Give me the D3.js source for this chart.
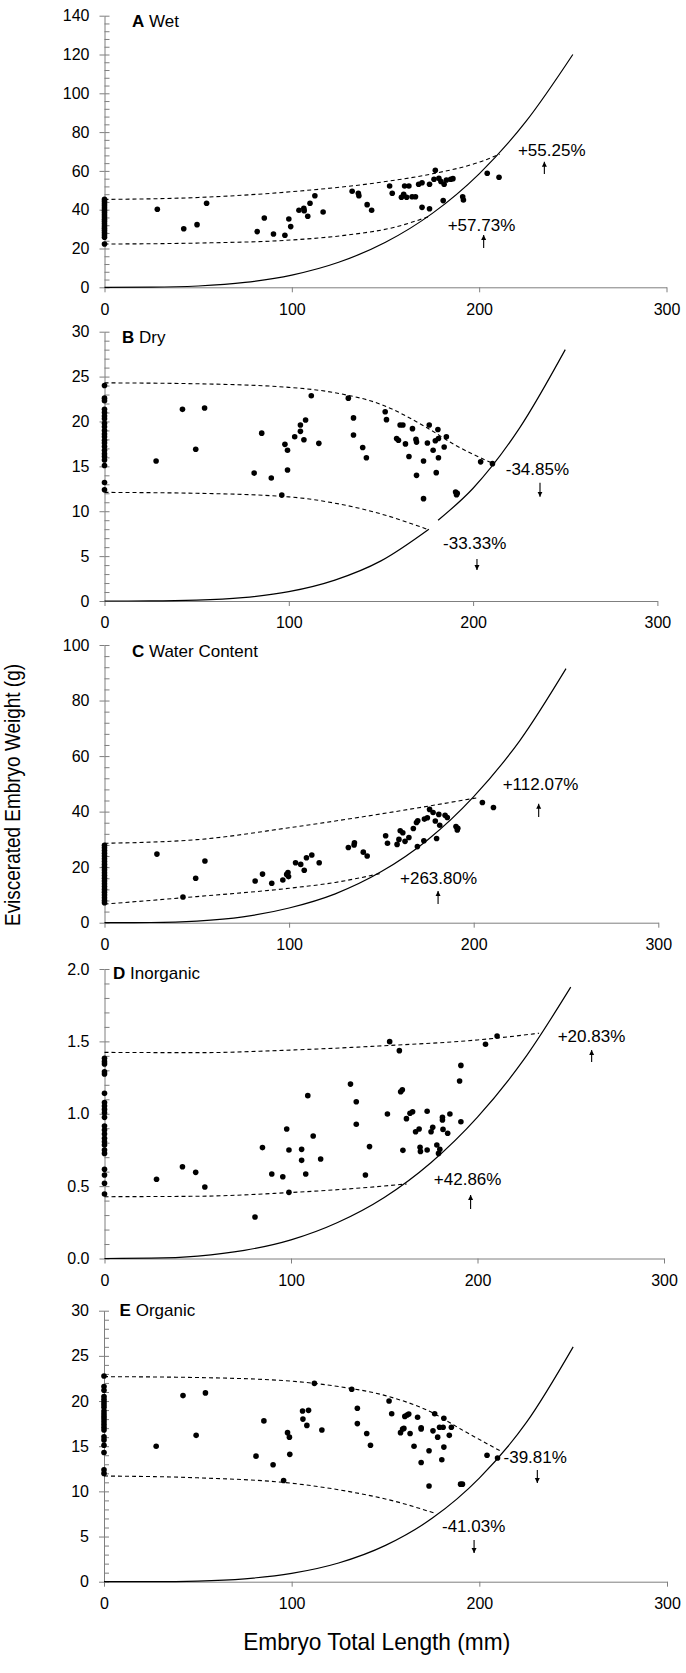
<!DOCTYPE html>
<html><head><meta charset="utf-8">
<script src="https://cdn.jsdelivr.net/npm/d3@7"></script>
<style>
body{margin:0;background:#fff}
svg{display:block}
text{font-family:"Liberation Sans",Arial,sans-serif;fill:#000}
</style>
</head><body>
<svg id="chart" width="686" height="1673"></svg>
<script>
// ---------------- DATA ----------------
const xTickValues = [0, 100, 200, 300];
const panelLetters = ["A", "B", "C", "D", "E"];
const panelNames = ["Wet", "Dry", "Water Content", "Inorganic", "Organic"];
const yMaxes = [140, 30, 100, 2, 30];
const yMajorSteps = [20, 5, 20, 0.5, 5];
const xTitle = "Embryo Total Length (mm)";
const yTitle = "Eviscerated Embryo Weight (g)";

// Panel A - Wet
const wetDots = [
[0,22.3],[0,25.8],[0,27],[0,28.2],[0,29.4],[0,30.5],[0,31.6],[0,32.8],[0,34],[0,35.1],[0,36.3],[0,37.4],[0,38.6],[0,39.7],[0,40.9],[0,42],[0,43.1],[0,44.2],[0,45.3],
[28.2,40.2],[42.3,30.2],[49.4,32.3],[54.5,43.3],[81.5,28.7],[85.3,35.7],[90.2,27.5],[96.3,26.8],[98.4,35.2],[99.4,31.3],[103.8,39.7],[106.4,40.7],[106.6,39.5],[108.5,36.6],[109.7,43.3],[112.3,47.2],[116.7,38.8],[132.2,49.5],[135.5,48.5],[135.8,47.2],[140.2,42.6],[142.6,39.7],[152.2,52.2],[153.6,48.5],[158.5,46.4],[159.7,48],[160.2,52.2],[162.5,52.2],[161.3,46.4],[164.2,46.7],[166,46.7],[167.7,53.1],[169.5,53.9],[169.5,41.2],[173.5,53.1],[173.5,40.5],[175.9,55.7],[176.6,60.3],[178.5,56.2],[179.6,54.5],[181.3,53.1],[180.8,44.7],[182.5,55.3],[184.8,55.7],[186,56],[191.2,46.7],[191.6,45],[204.3,58.8],[210.6,56.7]
];
const wetCurve = [[0,0],[25,0.07],[50,0.68],[75,2.5],[100,6.3],[125,12.9],[150,23.2],[175,38.1],[200,58.5],[225,85.5],[250,120]];
const wetUpper = [[0,45.3],[50,46.3],[100,49.3],[150,54.5],[175,58.5],[200,64.5],[211,68.6]];
const wetLower = [[0,22.3],[50,22.8],[100,24.4],[130,27],[155,31],[173,36.4]];
const wetNotes = [["+55.25%",220.7,67.7,234.8,58.4,64.7],["+57.73%",183.2,29.0,202.4,20.3,27.0]];

// Panel B - Dry
const dryDots = [
[0,24.0],[0,22.6],[0,22.3],[0,21.35],[0,21.0],[0,20.6],[0,20.3],[0,19.8],[0,19.4],[0,19.0],[0,18.6],[0,18.3],[0,17.9],[0,17.6],[0,17.2],[0,16.8],[0,16.4],[0,16.1],[0,15.7],[0,15.1],[0,13.2],[0,12.4],
[28.0,15.6],[42.3,21.35],[49.5,16.9],[54.3,21.5],[81.2,14.25],[85.3,18.7],[90.5,13.7],[96.2,11.8],[97.9,17.45],[99.3,16.8],[99.3,14.6],[103.2,18.3],[106.3,19.6],[106.3,18.9],[108.2,17.97],[109.1,20.16],[112.2,22.87],[116.3,17.56],[132.3,22.6],[135.1,20.4],[135.1,18.5],[140.1,17.1],[142.1,15.96],[152.3,21.09],[153.0,20.2],[158.5,18.1],[159.5,17.9],[160.4,19.6],[161.9,19.6],[163.3,17.5],[165.2,16.1],[167.1,19.2],[169.0,18.0],[169.3,17.7],[169.3,14.0],[173.1,15.6],[173.1,11.4],[175.2,17.6],[176.2,19.6],[178.3,16.8],[179.5,17.85],[180.0,14.3],[180.9,19.1],[181.2,18.1],[181.2,15.96],[184.3,17.15],[185.5,18.3],[190.5,12.14],[191,11.84],[191.4,12.0],[204.1,15.5],[210.5,15.3]
];
const dryCurveLow = [[0,0],[25,0.007],[50,0.087],[75,0.37],[100,1.04],[125,2.33],[150,4.47],[176,8.0]];
const dryCurveHigh = [[181,9.0],[200,12.56],[225,19.2],[250,28]];
const dryUpper = [[0,24.3],[50,24.2],[100,23.8],[125,23.2],[150,21.9],[175,19.3],[190,17.4],[210,15.4]];
const dryLower = [[0,12.1],[50,12.0],[100,11.6],[125,10.9],[150,9.7],[175,8.0]];
const dryNotes = [["-34.85%",217.7,14.04,236.3,13.18,11.62],["-33.33%",183.7,5.79,202.1,4.68,3.45]];

// Panel C - Water Content
const waterDots = [
[0,27.9],[0,27],[0,26],[0,25],[0,24],[0,23],[0,22],[0,21],[0,20],[0,19],[0,18],[0,17],[0,16],[0,15],[0,14],[0,13],[0,12],[0,11],[0,10],[0,9],[0,8],[0,7.2],
[28.4,24.7],[42.5,9.25],[49.4,16.0],[54.4,22.2],[81.6,15.0],[85.6,17.5],[90.6,14.2],[96.6,15.4],[98.7,17.4],[99.4,18.1],[99.7,16.6],[103.5,21.6],[106.3,21.0],[108.2,18.9],[109.4,23.4],[112.3,24.4],[116.3,21.6],[132.1,27.1],[135.2,28.0],[135.4,28.8],[140.2,25.4],[142.3,24.0],[152.3,31.3],[153.3,28.6],[158.5,28.2],[159.5,30.0],[160.2,33.1],[161.6,32.4],[162.8,29.3],[164.9,30.7],[167.3,33.9],[169.0,36.1],[169.5,27.4],[169.7,36.7],[173.0,29.5],[173.3,37.3],[174.9,37.8],[176.1,40.8],[178.0,39.7],[179.2,36.6],[179.9,30.3],[181.1,39.0],[181.6,35.1],[184.5,38.7],[185.7,37.9],[190.4,34.6],[191.1,33.4],[191.4,34.0],[204.7,43.3],[210.7,41.5]
];
const waterCurve = [[0,0],[25,0.07],[50,0.59],[75,2.1],[100,5.3],[125,10.4],[150,18.4],[175,29.8],[200,45.4],[225,65.6],[250,91.5]];
const waterUpper = [[0,28.6],[50,29.9],[100,34.2],[150,39.2],[202,45]];
const waterLower = [[0,6.7],[50,9.4],[100,12.4],[125,14.5],[150,17.8]];
const waterNotes = [["+112.07%",215.7,47.8,235.2,38.1,42.8],["+263.80%",160.1,13.9,180.7,6.7,11.4]];

// Panel D - Inorganic
const inorgDots = [
[0,1.383],[0,1.36],[0,1.344],[0,1.29],[0,1.275],[0,1.141],[0,1.077],[0,1.053],[0,1.03],[0,1.007],[0,0.975],[0,0.915],[0,0.888],[0,0.86],[0,0.83],[0,0.807],[0,0.784],[0,0.75],[0,0.726],[0,0.616],[0,0.577],[0,0.52],[0,0.446],
[27.9,0.547],[41.8,0.634],[48.9,0.595],[53.8,0.494],[80.7,0.287],[84.7,0.766],[89.7,0.584],[95.6,0.565],[97.7,0.895],[98.9,0.75],[98.9,0.457],[105.7,0.754],[105.7,0.678],[107.9,0.584],[109.0,1.125],[111.9,0.846],[115.9,0.687],[131.9,1.205],[135.0,1.083],[135.0,0.927],[142.1,0.773],[139.9,0.577],[151.7,0.998],[152.9,1.498],[158.1,1.436],[158.8,1.152],[159.7,1.166],[160.0,0.747],[161.9,0.966],[163.8,1.003],[165.2,1.014],[166.8,0.876],[168.7,0.895],[169.2,0.768],[169.4,0.74],[173.0,1.017],[173.0,0.75],[175.1,0.876],[176.0,0.906],[178.2,0.784],[179.1,0.726],[179.8,0.754],[181.2,0.975],[181.2,0.957],[181.5,0.892],[184.0,0.865],[185.2,0.998],[190.4,1.226],[191.1,1.334],[191.1,0.945],[204.3,1.48],[210.5,1.537]
];
const inorgCurve = [[0,0],[25,0.0023],[50,0.017],[75,0.056],[100,0.129],[125,0.249],[150,0.422],[175,0.662],[200,0.977],[225,1.377],[250,1.875]];
const inorgUpper = [[0,1.424],[50,1.422],[100,1.44],[150,1.47],[200,1.51],[233,1.556]];
const inorgLower = [[0,0.427],[50,0.43],[100,0.456],[130,0.48],[162,0.515]];
const inorgNotes = [["+20.83%",243,1.496,261.2,1.357,1.44],["+42.86%",176.6,0.508,196.3,0.342,0.439]];

// Panel E - Organic
const orgDots = [
[0,22.77],[0,21.6],[0,21.2],[0,20.5],[0,20.2],[0,19.9],[0,19.6],[0,19.3],[0,18.9],[0,18.6],[0,18.3],[0,18.0],[0,17.7],[0,17.4],[0,17.1],[0,16.8],[0,16.05],[0,15.7],[0,15.1],[0,14.3],[0,12.4],[0,11.99],
[27.8,15.0],[42.1,20.6],[49.1,16.2],[54.05,20.9],[81.0,13.9],[85.2,17.8],[90.1,12.95],[95.7,11.2],[97.8,16.5],[98.8,16.0],[99.0,14.1],[105.8,18.9],[106.0,18.0],[108.1,17.3],[109.0,18.97],[112.1,21.96],[116.1,16.8],[132.0,21.3],[135.0,19.2],[135.0,17.5],[140.0,16.4],[142.0,15.1],[151.9,20.0],[153.3,18.6],[158.0,16.5],[159.1,16.9],[159.8,16.97],[160.3,18.3],[161.5,18.45],[162.4,18.56],[163.1,16.4],[165.2,15.0],[167.1,18.2],[169.0,17.05],[169.0,16.9],[169.0,13.2],[173.2,14.5],[173.2,10.6],[175.3,16.7],[176.2,18.6],[177.8,16.0],[178.8,17.1],[180.7,17.1],[180.0,13.5],[181.1,18.1],[181.1,14.9],[184.0,16.2],[185.1,17.1],[190.0,10.8],[191.0,10.8],[204.1,14.0],[209.7,13.7]
];
const orgCurve = [[0,0],[25,0.006],[50,0.073],[75,0.32],[100,0.92],[125,2.07],[150,4.02],[175,7.04],[200,11.47],[225,17.6],[250,26]];
const orgUpper = [[0,22.7],[50,22.6],[100,22.2],[125,21.6],[150,20.6],[175,18.7],[190,16.9],[211,14.5]];
const orgLower = [[0,11.7],[50,11.5],[100,10.9],[130,10.0],[155,8.9],[176,7.6]];
const orgNotes = [["-39.81%",212.9,13.14,230.9,12.37,10.93],["-41.03%",180.1,5.5,197.2,4.61,3.17]];

// ---------------- LAYOUT ----------------
const layout = [
  {x0:104.5, x1:666.5, yb:287.3, yt:15.7,  lx:27.5, ly:11.3},
  {x0:104.5, x1:657.4, yb:601,   yt:331.7, lx:17.5, ly:11.3},
  {x0:104.5, x1:658.3, yb:922.7, yt:645,   lx:27.5, ly:12},
  {x0:104.5, x1:664,   yb:1258.5,yt:969,   lx:8.5,  ly:10},
  {x0:104,   x1:667,   yb:1581.7,yt:1310.7,lx:15.6, ly:5.3}
];
const panels = [
  {dots:wetDots,   curves:[wetCurve],                 upper:wetUpper,   lower:wetLower,   notes:wetNotes},
  {dots:dryDots,   curves:[dryCurveLow,dryCurveHigh], upper:dryUpper,   lower:dryLower,   notes:dryNotes},
  {dots:waterDots, curves:[waterCurve],               upper:waterUpper, lower:waterLower, notes:waterNotes},
  {dots:inorgDots, curves:[inorgCurve],               upper:inorgUpper, lower:inorgLower, notes:inorgNotes},
  {dots:orgDots,   curves:[orgCurve],                 upper:orgUpper,   lower:orgLower,   notes:orgNotes}
];

const AXIS = "#7f7f7f";
const svg = d3.select("#chart");
svg.append("rect").attr("width",686).attr("height",1673).attr("fill","#fff");

const defs = svg.append("defs");
defs.append("marker").attr("id","ah").attr("viewBox","0 0 10 10")
  .attr("refX",10).attr("refY",5).attr("markerWidth",5).attr("markerHeight",6)
  .attr("markerUnits","userSpaceOnUse").attr("orient","auto")
  .append("path").attr("d","M0,0 L10,5 L0,10 z").attr("fill","#000");

panels.forEach((p, i) => {
  const L = layout[i];
  const x = d3.scaleLinear().domain([0,300]).range([L.x0, L.x1]);
  const y = d3.scaleLinear().domain([0,yMaxes[i]]).range([L.yb, L.yt]);
  const step = yMajorSteps[i];
  const majors = d3.range(0, yMaxes[i] + step/2, step);
  const minors = d3.range(0, Math.round(yMaxes[i]/(step/5)) + 1).map(k => k*step/5);
  const fmt = step < 1 ? d3.format(".1f") : d3.format("d");
  const g = svg.append("g");

  const ya = g.append("g").attr("transform",`translate(${L.x0},0)`)
    .call(d3.axisLeft(y).tickValues(majors).tickSize(5).tickSizeOuter(0).tickPadding(10).tickFormat(fmt));
  const yr = g.append("g").attr("transform",`translate(${L.x0},0)`)
    .call(d3.axisRight(y).tickValues(minors).tickSize(5).tickSizeOuter(0).tickFormat(""));
  yr.select(".domain").remove();
  const xa = g.append("g").attr("transform",`translate(0,${L.yb})`)
    .call(d3.axisBottom(x).tickValues(xTickValues).tickSize(5).tickSizeOuter(0).tickPadding(11).tickFormat(d3.format("d")));

  [ya, yr, xa].forEach(a => {
    a.selectAll("line").attr("stroke", AXIS);
    a.selectAll(".domain").attr("stroke", AXIS);
    a.selectAll("text").attr("font-size", 16).attr("fill","#000")
      .attr("font-family",'"Liberation Sans",Arial,sans-serif');
  });

  const t = g.append("text").attr("x", L.x0 + L.lx).attr("y", L.yt + L.ly).attr("font-size", 17);
  t.append("tspan").attr("font-weight","bold").text(panelLetters[i]);
  t.append("tspan").text(" " + panelNames[i]);

  const line = d3.line().x(d => x(d[0])).y(d => y(d[1])).curve(d3.curveMonotoneX);

  p.curves.forEach(c => g.append("path").attr("d", line(c)).attr("fill","none")
    .attr("stroke","#000").attr("stroke-width",1.2));
  [p.upper, p.lower].forEach(c => g.append("path").attr("d", line(c)).attr("fill","none")
    .attr("stroke","#000").attr("stroke-width",1.1).attr("stroke-dasharray","4,3"));

  g.append("g").selectAll("circle").data(p.dots).join("circle")
    .attr("cx", d => x(d[0])).attr("cy", d => y(d[1])).attr("r", 2.8).attr("fill","#000");

  p.notes.forEach(n => {
    g.append("text").attr("x", x(n[1])).attr("y", y(n[2])).attr("font-size", 17).text(n[0]);
    g.append("line").attr("x1", x(n[3])).attr("x2", x(n[3]))
      .attr("y1", y(n[4])).attr("y2", y(n[5]))
      .attr("stroke","#000").attr("stroke-width",1.1).attr("marker-end","url(#ah)");
  });
});

svg.append("text").attr("x", 376.7).attr("y", 1650).attr("text-anchor","middle")
  .attr("font-size", 24).attr("textLength", 267).attr("lengthAdjust","spacingAndGlyphs").text(xTitle);
svg.append("text").attr("transform","translate(20,795) rotate(-90)").attr("text-anchor","middle")
  .attr("font-size", 22).attr("textLength", 262).attr("lengthAdjust","spacingAndGlyphs").text(yTitle);
</script>
</body></html>
